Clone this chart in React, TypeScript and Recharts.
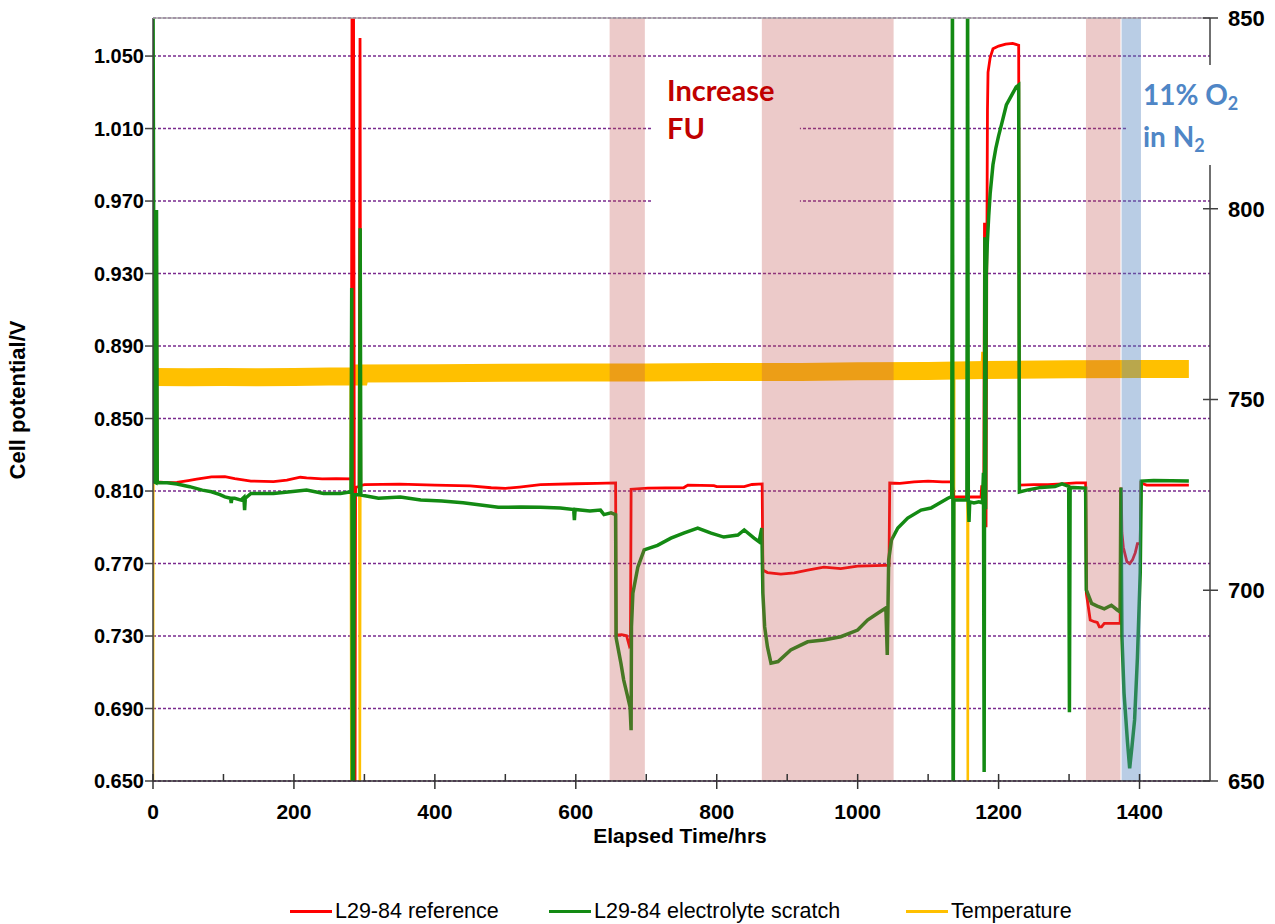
import { LineChart, Line, XAxis, YAxis, CartesianGrid, ReferenceArea, ReferenceLine } from "recharts"

const FONT = '"Liberation Sans", Arial, sans-serif'
const NOTE_FONT = 'Lato, "Liberation Sans", sans-serif'

// plot box in page pixels (used only for tick drawing)
const PLOT_BOTTOM = 781
const PLOT_RIGHT = 1210

const leftTicks = [0.65, 0.69, 0.73, 0.77, 0.81, 0.85, 0.89, 0.93, 0.97, 1.01, 1.05]
const rightTicks = [650, 700, 750, 800, 850]
const hourTicks = [0, 100, 200, 300, 400, 500, 600, 700, 800, 900, 1000, 1100, 1200, 1300, 1400]

// shaded periods (hrs)
const fuPeriods: [number, number][] = [
  [648, 698],
  [864, 1051],
  [1324, 1373],
]
const o2Period: [number, number] = [1374.5, 1402]

// L29-84 reference, [hrs, V]
const referencePts: [number, number][] = [
  [0, 1.044], [1.5, 0.816], [4, 0.816], [5, 0.963], [6, 0.815], [20, 0.8146], [34, 0.8148], [50, 0.8158],
  [62, 0.8166], [83, 0.8178], [102, 0.8179], [116, 0.8168], [139, 0.8155], [171, 0.8152], [190, 0.816],
  [209, 0.8176], [218, 0.8172], [240, 0.8167], [260, 0.8168], [281.5, 0.8167], [282.5, 1.1], [283.5, 0.9],
  [284.5, 1.1], [286.5, 0.6], [287.5, 0.812], [292.5, 0.8125], [293.8, 1.06], [294.8, 0.813],
  [300, 0.8135], [350, 0.8138], [400, 0.8132], [450, 0.8128], [480, 0.8118], [500, 0.8115], [520, 0.8122],
  [550, 0.8135], [600, 0.814], [630, 0.8142], [656.5, 0.8145], [657.2, 0.7305], [665, 0.7308], [672, 0.7302],
  [676, 0.7245], [677.5, 0.7255], [678.5, 0.811], [702, 0.8116], [753, 0.8118], [759, 0.8133], [796, 0.813],
  [800, 0.8124], [839, 0.8124], [850, 0.8136], [864.5, 0.8139], [865.5, 0.7664], [872, 0.765], [891, 0.7642],
  [910, 0.7648], [929, 0.7664], [952, 0.768], [976, 0.7672], [1000, 0.7686], [1038, 0.769], [1044.5, 0.769],
  [1045.5, 0.8144], [1060, 0.8142], [1080, 0.815], [1100, 0.8155], [1120, 0.815], [1134, 0.815],
  [1136.5, 0.8067], [1175, 0.8067], [1176, 0.8124], [1179, 0.8124], [1180, 0.958], [1181, 0.944],
  [1182.2, 0.79], [1183.2, 0.93], [1184.2, 1.02], [1185, 1.041], [1188, 1.049], [1192, 1.054], [1200, 1.0555],
  [1210, 1.0566], [1220, 1.057], [1228.5, 1.056], [1229.5, 0.8133], [1250, 0.8135], [1270, 0.8135],
  [1290, 0.814], [1310, 0.8145], [1323.5, 0.8145], [1324.5, 0.7537], [1330, 0.7388], [1336, 0.7379],
  [1340, 0.7375], [1343, 0.735], [1346, 0.735], [1350, 0.737], [1360, 0.737], [1372.5, 0.737], [1373, 0.787],
  [1374, 0.812], [1375, 0.787], [1377, 0.779], [1382, 0.771], [1386, 0.77], [1390, 0.772], [1394, 0.776],
  [1397, 0.781], [1401, 0.781], [1402, 0.8144], [1410, 0.8133], [1470, 0.8133],
]

// L29-84 electrolyte scratch, [hrs, V]
const scratchPts: [number, number][] = [
  [0, 1.09], [2, 0.815], [4, 0.8146], [5, 0.965], [6, 0.8146], [20, 0.8146], [34, 0.8139], [52, 0.8124],
  [70, 0.8105], [83, 0.8096], [95, 0.808], [102, 0.8068], [110, 0.806], [111, 0.8034], [112, 0.806],
  [116, 0.806], [125, 0.805], [129, 0.8065], [130, 0.7995], [131, 0.806], [139, 0.8087], [171, 0.8087],
  [195, 0.8096], [218, 0.8105], [242, 0.8087], [266, 0.8087], [281, 0.8096], [282, 0.922], [283, 0.63],
  [284.5, 0.63], [285.5, 0.808], [293, 0.808], [294, 0.955], [295, 0.8078], [320, 0.806], [351, 0.8067],
  [380, 0.805], [410, 0.8045], [440, 0.8035], [465, 0.8023], [490, 0.801], [522, 0.8012], [550, 0.801],
  [578, 0.8006], [597, 0.7998], [598, 0.794], [599, 0.7998], [620, 0.799], [635, 0.7995], [640, 0.797],
  [650, 0.798], [656.5, 0.797], [657.2, 0.729], [664, 0.715], [668, 0.7057], [673, 0.6975], [677, 0.6908],
  [678.5, 0.678], [679, 0.735], [681, 0.7536], [688, 0.768], [697, 0.7775], [716, 0.78], [735, 0.784],
  [753, 0.7868], [773, 0.7896], [792, 0.7868], [810, 0.7846], [830, 0.7857], [839, 0.7885], [853, 0.784],
  [860, 0.782], [864, 0.7896], [865.5, 0.7536], [868, 0.735], [872, 0.724], [877, 0.715], [887, 0.7159],
  [905, 0.7223], [929, 0.7268], [952, 0.7278], [976, 0.7296], [1000, 0.7333], [1014, 0.7388], [1029, 0.7427],
  [1040, 0.7455], [1042, 0.7195], [1044, 0.772], [1048, 0.783], [1057, 0.7896], [1071, 0.7951], [1090, 0.7995],
  [1104, 0.8006], [1128, 0.806], [1133.5, 0.807], [1134.5, 1.1], [1135.5, 0.6], [1136.5, 0.805], [1155, 0.805],
  [1156, 1.1], [1157, 0.805], [1158, 0.793], [1159, 0.804], [1165, 0.8034], [1172, 0.804], [1177, 0.8034],
  [1178.5, 0.82], [1179.5, 0.655], [1180.5, 0.95], [1181.5, 0.8], [1182.5, 0.93], [1184, 0.947], [1186, 0.962],
  [1188, 0.974], [1192, 0.99], [1196, 0.999], [1200, 1.006], [1204, 1.012], [1211, 1.023], [1218, 1.028],
  [1225, 1.033], [1228.5, 1.034], [1229.5, 0.8095], [1240, 0.8105], [1260, 0.812], [1280, 0.8125],
  [1290, 0.814], [1299.5, 0.8125], [1300.5, 0.688], [1301.5, 0.812], [1323.5, 0.8116], [1324.5, 0.7554],
  [1332, 0.748], [1340, 0.7465], [1350, 0.745], [1360, 0.747], [1368, 0.7445], [1372.5, 0.7433],
  [1373.5, 0.812], [1375, 0.73], [1378, 0.6985], [1383, 0.671], [1386, 0.657], [1389, 0.668], [1393, 0.6837],
  [1397, 0.718], [1401, 0.765], [1402.5, 0.8155], [1420, 0.8158], [1470, 0.8155],
]

// Temperature (right axis): the steady band and the short excursions
const tempBandPts: [number, number][] = [
  [2, 755.9], [50, 755.8], [100, 755.9], [150, 755.8], [200, 755.9], [250, 756], [293.5, 756],
  [294.5, 756.8], [400, 756.9], [500, 757], [600, 757.1], [700, 757.1], [800, 757.2], [920, 757.2],
  [1000, 757.4], [1100, 757.5], [1180, 757.7], [1300, 757.9], [1400, 758], [1470, 758],
]
const tempSpikePts: [number, number | null][] = [
  [0, 650], [0.8, 762.4], [2, 756], [2.5, null],
  [280.5, 756], [281.5, 640], [282.5, 756], [283, null],
  [292.5, 756.5], [293.5, 640], [294.5, 757], [295, null],
  [1135.5, 757.6], [1136.3, 640], [1137, 757.6], [1138, null],
  [1155.5, 757.6], [1156.3, 640], [1157, 757.6], [1158, null],
  [1176, 757.7], [1177, 762.5], [1178, 757.7],
]

// white boxes behind the two notes (hrs / V)
const noteBoxes = [
  { x1: 709, x2: 918, y1: 0.964, y2: 1.042 },
  { x1: 1381, x2: 1500, y1: 0.99, y2: 1.045 },
]

const referenceData = referencePts.map(([hr, v]) => ({ hr, v }))
const scratchData = scratchPts.map(([hr, v]) => ({ hr, v }))
const tempBandData = tempBandPts.map(([hr, t]) => ({ hr, t }))
const tempSpikeData = tempSpikePts.map(([hr, t]) => ({ hr, t }))

const XTick = (props: any) => {
  const { x, payload } = props
  const major = payload.value % 200 === 0
  return (
    <g>
      <line x1={x} x2={x} y1={PLOT_BOTTOM - 7} y2={major ? PLOT_BOTTOM + 8 : PLOT_BOTTOM} stroke="#333" strokeWidth={1.5} />
      {major && (
        <text x={x} y={PLOT_BOTTOM + 38} textAnchor="middle" fontSize={21} fontWeight={700} fontFamily={FONT} fill="#000">
          {payload.value}
        </text>
      )}
    </g>
  )
}

const RightTick = (props: any) => {
  const { y, payload } = props
  return (
    <g>
      <line x1={PLOT_RIGHT - 7} x2={PLOT_RIGHT + 8} y1={y} y2={y} stroke="#404040" strokeWidth={1.5} />
      <text x={PLOT_RIGHT + 18} y={y} dy="0.36em" textAnchor="start" fontSize={22} fontWeight={700} fontFamily={FONT} fill="#000">
        {payload.value}
      </text>
    </g>
  )
}

const legendItems = [
  { name: "L29-84 reference", color: "#FF0000", left: 290 },
  { name: "L29-84 electrolyte scratch", color: "#138a13", left: 549 },
  { name: "Temperature", color: "#FFC000", left: 906 },
]

export default function App() {
  return (
    <div style={{ position: "absolute", left: 0, top: 0, width: 1275, height: 924, background: "#fff", fontFamily: FONT }}>
      <LineChart width={1275} height={924} margin={{ top: 18, right: 5, left: 73, bottom: 103 }}>
        <CartesianGrid yAxisId="left" vertical={false} stroke="#7a2a8e" strokeDasharray="3 2" strokeWidth={1.4} />
        {noteBoxes.map((b, i) => (
          <ReferenceArea
            key={`box-${i}`}
            yAxisId="left"
            x1={b.x1}
            x2={b.x2}
            y1={b.y1}
            y2={b.y2}
            fill="#ffffff"
            fillOpacity={1}
            stroke="none"
            zIndex={-50}
          />
        ))}
        <XAxis
          type="number"
          dataKey="hr"
          domain={[0, 1500]}
          ticks={hourTicks}
          interval={0}
          allowDataOverflow
          height={40}
          tickLine={false}
          tick={(p: any) => <XTick {...p} />}
          axisLine={{ stroke: "#333", strokeWidth: 1.5 }}
        />
        <YAxis
          yAxisId="left"
          domain={[0.65, 1.071]}
          ticks={leftTicks}
          interval={0}
          allowDataOverflow
          width={80}
          tickSize={8}
          tickMargin={1}
          tickFormatter={(v: number) => v.toFixed(3)}
          tick={{ fill: "#000", fontSize: 20, fontWeight: 700, fontFamily: FONT }}
          tickLine={{ stroke: "#404040", strokeWidth: 1.5 }}
          axisLine={{ stroke: "#404040", strokeWidth: 1.5 }}
        />
        <YAxis
          yAxisId="right"
          orientation="right"
          domain={[650, 850]}
          ticks={rightTicks}
          interval={0}
          allowDataOverflow
          width={60}
          axisLine={false}
          tickLine={false}
          tick={(p: any) => <RightTick {...p} />}
        />
        <Line
          yAxisId="right"
          data={tempBandData}
          dataKey="t"
          stroke="#FFC000"
          strokeWidth={18}
          dot={false}
          activeDot={false}
          isAnimationActive={false}
        />
        <Line
          yAxisId="right"
          data={tempSpikeData}
          dataKey="t"
          stroke="#FFC000"
          strokeWidth={2.5}
          dot={false}
          activeDot={false}
          connectNulls={false}
          isAnimationActive={false}
          legendType="none"
        />
        <Line
          yAxisId="left"
          data={referenceData}
          dataKey="v"
          stroke="#FF0000"
          strokeWidth={2.8}
          dot={false}
          activeDot={false}
          isAnimationActive={false}
        />
        <Line
          yAxisId="left"
          data={scratchData}
          dataKey="v"
          stroke="#138a13"
          strokeWidth={3.5}
          dot={false}
          activeDot={false}
          isAnimationActive={false}
        />
        {fuPeriods.map(([a, b], i) => (
          <ReferenceArea
            key={`fu-${i}`}
            yAxisId="left"
            x1={a}
            x2={b}
            fill="#c0504d"
            fillOpacity={0.3}
            stroke="none"
            zIndex={450}
          />
        ))}
        <ReferenceArea
          yAxisId="left"
          x1={o2Period[0]}
          x2={o2Period[1]}
          fill="#4f81bd"
          fillOpacity={0.4}
          stroke="none"
          zIndex={450}
        />
        <ReferenceLine yAxisId="right" y={850} stroke="#a6a6a6" strokeWidth={1.5} ifOverflow="visible" zIndex={500} />
        <ReferenceLine
          yAxisId="right"
          segment={[{ x: 1500, y: 650 }, { x: 1500, y: 811.5 }]}
          stroke="#404040"
          strokeWidth={1.5}
          ifOverflow="visible"
          zIndex={500}
        />
        <ReferenceLine
          yAxisId="right"
          segment={[{ x: 1500, y: 837.7 }, { x: 1500, y: 850 }]}
          stroke="#404040"
          strokeWidth={1.5}
          ifOverflow="visible"
          zIndex={500}
        />
      </LineChart>

      {/* notes */}
      <div
        style={{
          position: "absolute",
          left: 667,
          top: 71,
          fontFamily: NOTE_FONT,
          fontWeight: 700,
          fontSize: 29,
          lineHeight: "38px",
          color: "#C00000",
        }}
      >
        Increase
        <br />
        FU
      </div>
      <div
        style={{
          position: "absolute",
          left: 1143,
          top: 75,
          fontFamily: NOTE_FONT,
          fontWeight: 700,
          fontSize: 28,
          lineHeight: "38px",
          color: "#4f86c6",
          whiteSpace: "nowrap",
        }}
      >
        11% O<span style={{ fontSize: 18, position: "relative", top: 5 }}>2</span>
        <br />
        in N<span style={{ fontSize: 18, position: "relative", top: 5 }}>2</span>
      </div>

      {/* axis titles */}
      <div
        style={{
          position: "absolute",
          left: 18,
          top: 400,
          transform: "translate(-50%, -50%) rotate(-90deg)",
          whiteSpace: "nowrap",
          fontWeight: 700,
          fontSize: 22,
        }}
      >
        Cell potential/V
      </div>
      <div
        style={{
          position: "absolute",
          left: 680,
          top: 836,
          transform: "translate(-50%, -50%)",
          whiteSpace: "nowrap",
          fontWeight: 700,
          fontSize: 21,
        }}
      >
        Elapsed Time/hrs
      </div>

      {/* legend */}
      {legendItems.map((it) => (
        <div
          key={it.name}
          style={{
            position: "absolute",
            left: it.left,
            top: 898,
            display: "flex",
            alignItems: "center",
            whiteSpace: "nowrap",
            fontSize: 21.5,
            lineHeight: "26px",
          }}
        >
          <span style={{ display: "inline-block", width: 42, height: 3, background: it.color, marginRight: 3 }} />
          {it.name}
        </div>
      ))}
    </div>
  )
}
